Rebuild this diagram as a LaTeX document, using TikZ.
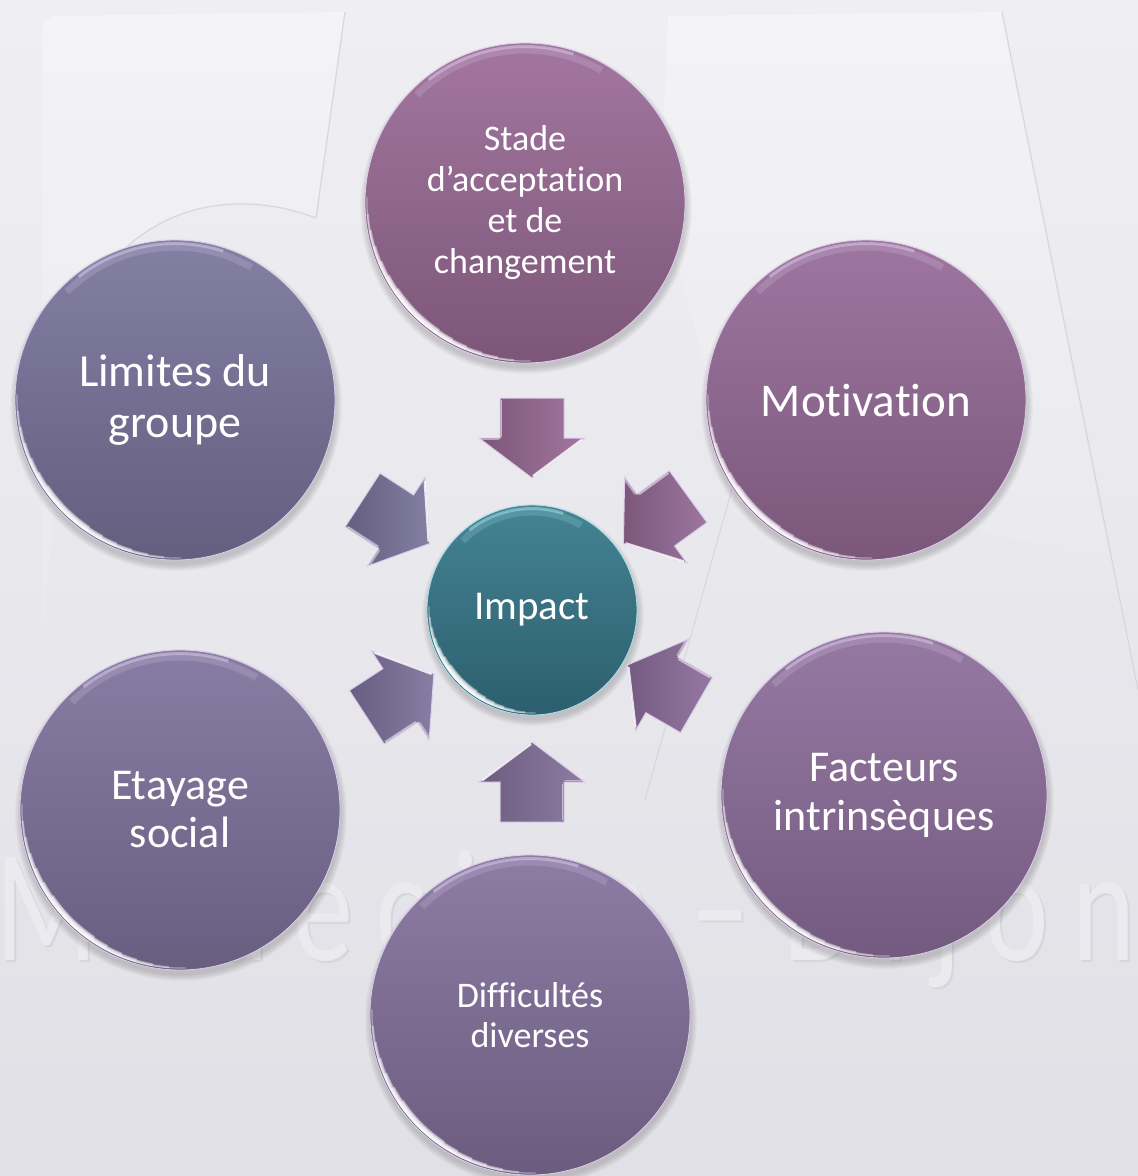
\documentclass[tikz,border=0pt]{standalone}
\usepackage{fontspec}
\setmainfont{Carlito}[Ligatures=NoCommon]
\newfontfamily\wmfont[LetterSpace=20,Ligatures=NoCommon]{Carlito}
\usetikzlibrary{calc}

\definecolor{bgtop}{RGB}{239,239,243}
\definecolor{bgbot}{RGB}{224,224,230}
\definecolor{bgline}{RGB}{214,214,220}
\definecolor{wmdark}{RGB}{214,214,220}
\definecolor{wmlight}{RGB}{235,235,239}
\definecolor{rim}{RGB}{222,206,236}
\definecolor{sT}{RGB}{163,118,160}\definecolor{sB}{RGB}{124,86,120}
\definecolor{mT}{RGB}{158,118,160}\definecolor{mB}{RGB}{122,87,123}
\definecolor{fT}{RGB}{150,121,163}\definecolor{fB}{RGB}{115,90,127}
\definecolor{dT}{RGB}{141,124,164}\definecolor{dB}{RGB}{107,92,127}
\definecolor{eT}{RGB}{136,125,164}\definecolor{eB}{RGB}{103,94,128}
\definecolor{lT}{RGB}{131,128,164}\definecolor{lB}{RGB}{100,94,127}
\definecolor{iT}{RGB}{68,132,147}\definecolor{iB}{RGB}{44,94,110}
\definecolor{iRim}{RGB}{170,225,235}

\tikzset{
  bubble/.style={circle, inner sep=0pt, minimum size=320pt, text=white,
    align=center, draw=rim, line width=0.8pt},
  wmtext/.style={inner sep=0pt, font=\wmfont\fontsize{160}{160}\selectfont},
  bgshape/.style={top color=white, bottom color=bgtop, opacity=.32},
}

% soft shadow under a circle centre #1 radius #2
\newcommand\softshadow[2]{%
  \foreach \k in {0,...,6}{\fill[black, opacity=0.022] ($(#1)+(1,5)$) circle[radius={#2+\k}];}}
% glossy highlights on a circle node #1 radius #2 colour #3
\newcommand\gloss[3]{%
  \draw[#3, line width=7pt, opacity=.2] (#1.center) ++(-135:{#2-7}) arc[start angle=-135, end angle=-60, radius={#2-7}];
  \draw[#3, line width=3pt, opacity=.5] (#1.center) ++(-128:{#2-3.5}) arc[start angle=-128, end angle=-72, radius={#2-3.5}];
  \foreach \k in {0,...,6}{%
    \draw[white, line width={1.2pt+0.8pt*\k}, opacity=.4]
      (#1.center) ++({88+6*\k}:{#2-2-0.45*\k}) arc[start angle={88+6*\k}, end angle={182-6*\k}, radius={#2-2-0.45*\k}];}}
% block arrow pointing to the centre node: #1 polar angle, #2 distance, #3 tail colour, #4 head colour, #5 name
\newcommand\inarrow[5]{%
  \coordinate (#5) at ($(imp.center)+(#1:#2)$);
  \begin{scope}[shift={(#5)}, rotate={-(#1+180)}]
    \shade[left color=#3, right color=#4, draw=rim, line width=1pt, line join=miter]
      (-40,-32) -- (0,-32) -- (0,-53) -- (40,0) -- (0,53) -- (0,32) -- (-40,32) -- cycle;
    \draw[white, opacity=.8, line width=2.2pt] (1.5,-50) -- (38,-1);
    \draw[white, opacity=.55, line width=1.6pt] (-38,30.5) -- (-1.5,30.5);
    \draw[white, opacity=.45, line width=1.6pt] (1.5,50) -- (1.5,33);
  \end{scope}}

\begin{document}
\begin{tikzpicture}[x=1pt,y=-1pt]
\useasboundingbox (0,0) rectangle (1138,1176);
\shade[top color=bgtop, bottom color=bgbot] (0,0) rectangle (1138,1176);

% faint background logo shapes
\shade[bgshape] (52,16) -- (345,12) -- (316,218) .. controls (230,185) and (120,205) .. (72,330) -- (42,640) -- (42,24) -- cycle;
\draw[bgline, line width=1.2pt] (345,12) -- (316,218) .. controls (230,185) and (120,205) .. (72,330);
\shade[bgshape] (668,16) -- (1002,12) -- (1110,560) -- (735,480) -- (660,200) -- cycle;
\draw[bgline, line width=1.2pt] (1002,12) -- (1138,690);
\draw[bgline, line width=1pt] (735,478) -- (645,800);

% watermark
\node[wmtext, text=wmdark, anchor=base east] (wmA1) at (652,962) {\scalebox{.75}[1]{Médecine}};
\node[wmtext, text=wmlight, anchor=base east] (wmA2) at (650,960) {\scalebox{.75}[1]{Médecine}};
\node[wmtext, text=wmdark, anchor=base] (wmB1) at (722,962) {\scalebox{.75}[1]{–}};
\node[wmtext, text=wmlight, anchor=base] (wmB2) at (720,960) {\scalebox{.75}[1]{–}};
\node[wmtext, text=wmdark, anchor=base west] (wmC1) at (785,962) {\scalebox{.75}[1]{Dijon}};
\node[wmtext, text=wmlight, anchor=base west] (wmC2) at (783,960) {\scalebox{.75}[1]{Dijon}};

% circle centres
\coordinate (cS) at (525,203);
\coordinate (cM) at (866,400);
\coordinate (cF) at (884,795);
\coordinate (cD) at (530,1015);
\coordinate (cE) at (180,810);
\coordinate (cL) at (175,400);
\coordinate (cI) at (532,610);

\softshadow{cS}{160}\softshadow{cM}{160}\softshadow{cF}{163}
\softshadow{cD}{160}\softshadow{cE}{160}\softshadow{cL}{160}
\softshadow{cI}{105}

\node[bubble, top color=sT, bottom color=sB, font=\fontsize{36}{41}\selectfont] (stade) at (cS)
  {Stade\\d’acceptation\\et de\\changement};
\node[bubble, top color=mT, bottom color=mB, font=\fontsize{47}{53}\selectfont] (mot) at (cM) {Motivation};
\node[bubble, minimum size=326pt, top color=fT, bottom color=fB, font=\fontsize{44}{49}\selectfont] (fac) at (cF)
  {Facteurs\\intrinsèques};
\node[bubble, top color=dT, bottom color=dB, font=\fontsize{36}{40}\selectfont] (dif) at (cD)
  {Difficultés\\diverses};
\node[bubble, top color=eT, bottom color=eB, font=\fontsize{44}{48}\selectfont] (eta) at (cE)
  {Etayage\\social};
\node[bubble, top color=lT, bottom color=lB, font=\fontsize{46}{51}\selectfont] (lim) at (cL)
  {Limites du\\groupe};
\node[bubble, minimum size=210pt, draw=iRim, top color=iT, bottom color=iB, font=\fontsize{41}{46}\selectfont] (imp) at (cI)
  {Impact};

\gloss{stade}{160}{rim}\gloss{mot}{160}{rim}\gloss{fac}{163}{rim}
\gloss{dif}{160}{rim}\gloss{eta}{160}{rim}\gloss{lim}{160}{rim}
\gloss{imp}{105}{iRim}

% converging arrows
\inarrow{-90}{172}{sB}{sT}{aS}
\inarrow{-36}{153}{mB}{mT}{aM}
\inarrow{30}{150}{fB}{fT}{aF}
\inarrow{90}{172}{dB}{dT}{aD}
\inarrow{147}{157}{eB}{eT}{aE}
\inarrow{-147}{162}{lB}{lT}{aL}
\end{tikzpicture}
\end{document}
